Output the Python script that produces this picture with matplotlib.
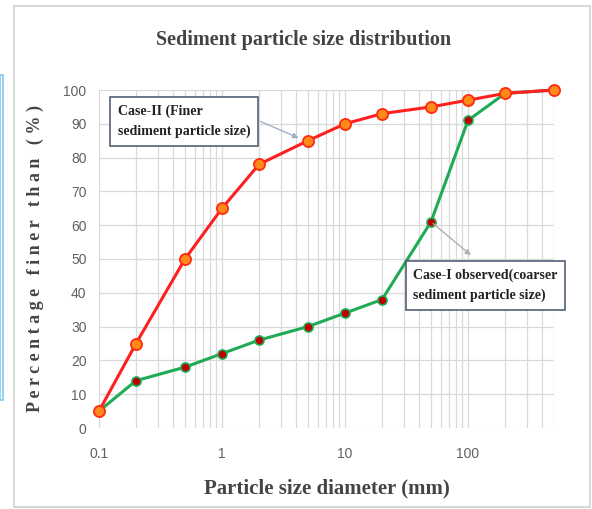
import matplotlib.pyplot as plt
import numpy as np
from matplotlib.patches import Rectangle

# particle size (mm) and percentage finer
size_mm = [0.1, 0.2, 0.5, 1, 2, 5, 10, 20, 50, 100, 200, 500]
case2_finer = [5, 25, 50, 65, 78, 85, 90, 93, 95, 97, 99, 100]
case1_finer = [5, 14, 18, 22, 26, 30, 34, 38, 61, 91, 99, 100]
xtick_vals = [0.1, 1, 10, 100]
xtick_labels = ['0.1', '1', '10', '100']
ytick_vals = list(range(0, 101, 10))

serif = ['Liberation Serif', 'DejaVu Serif']
narrow = ['Liberation Sans Narrow', 'Liberation Sans', 'DejaVu Sans']

fig = plt.figure(figsize=(5.92, 5.09), dpi=100)

# outer frame and the blue strip at the left edge
fig.patches.append(Rectangle((14/592, 2/509), 576/592, 501/509, transform=fig.transFigure,
                             fill=False, edgecolor='#d0d0d0', lw=1.2))
fig.patches.append(Rectangle((0, 109/509), 3/592, 325/509, transform=fig.transFigure,
                             fill=False, edgecolor='#7fc8f0', lw=1.2))

ax = fig.add_axes([99/592, 1 - 428/509, 455/592, 338/509])
ax.set_xscale('log')
ax.set_xlim(0.1, 500)
ax.set_ylim(0, 100)

ax.plot(size_mm, case1_finer, color='#1faa55', lw=2.2, marker='o', ms=6.5,
        markerfacecolor='#c00000', markeredgecolor='#1faa55', markeredgewidth=1.2,
        zorder=3, clip_on=False)
ax.plot(size_mm, case2_finer, color='#ff1f1f', lw=2.2, marker='o', ms=8,
        markerfacecolor='#ff8a1a', markeredgecolor='#ff2a10', markeredgewidth=1.3,
        zorder=4, clip_on=False)

ax.set_xticks(xtick_vals)
ax.set_xticklabels(xtick_labels)
ax.set_yticks(ytick_vals)
ax.grid(True, which='both', axis='x', color='#d9d9d9', lw=0.9)
ax.grid(True, which='major', axis='y', color='#d9d9d9', lw=0.9)
for s in ax.spines.values():
    s.set_visible(False)
ax.tick_params(which='both', length=0)
ax.tick_params(axis='x', pad=14)
ax.tick_params(axis='y', pad=9)
for lab in ax.get_xticklabels() + ax.get_yticklabels():
    lab.set_family(narrow)
    lab.set_fontsize(10)
    lab.set_color('#606060')

fig.text(0.512, 1 - 40/509, 'Sediment particle size distribution', ha='center', va='center',
         family=serif, fontweight='bold', fontsize=14.5, color='#444444')
ax.set_xlabel('Particle size diameter (mm)', family=serif, fontweight='bold',
              fontsize=15, color='#444444', labelpad=12)
ax.set_ylabel('P e r c e n t a g e   f i n e r   t h a n   ( % )', family=serif,
              fontweight='bold', fontsize=13, color='#444444', labelpad=14)

box = dict(boxstyle='square,pad=0.55', facecolor='white', edgecolor='#44546a', lw=1.1)
ax.annotate('', xy=(4.4, 85.5), xytext=(1.96, 91),
            arrowprops=dict(arrowstyle='-|>', color='#9fb0c8', lw=1, mutation_scale=8))
ax.annotate('', xy=(110, 50.6), xytext=(50, 61),
            arrowprops=dict(arrowstyle='-|>', color='#b0b0b0', lw=1, mutation_scale=8))
ax.text(0.142, 90.7, 'Case-II (Finer\nsediment particle size)', ha='left', va='center',
        family=serif, fontweight='bold', fontsize=10, color='#222222',
        linespacing=1.6, bbox=box, zorder=6)
ax.text(36, 42.2, 'Case-I observed(coarser\nsediment particle size)', ha='left', va='center',
        family=serif, fontweight='bold', fontsize=10, color='#222222',
        linespacing=1.6, bbox=box, zorder=6, clip_on=False)

fig.savefig('out.png', dpi=100)
